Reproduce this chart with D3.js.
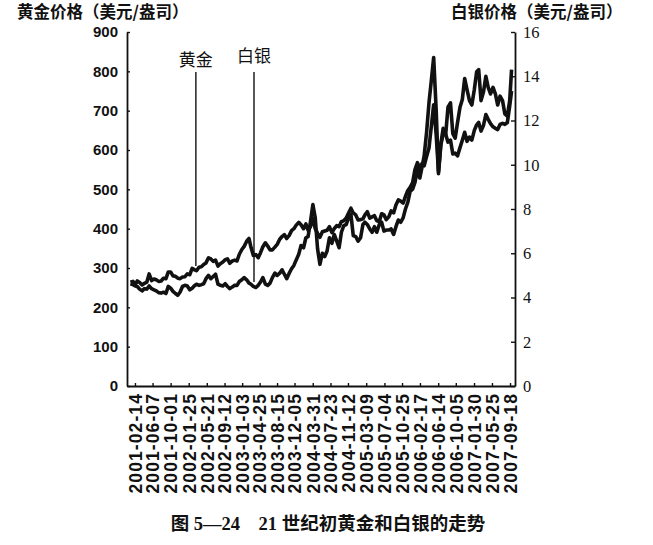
<!DOCTYPE html>
<html><head><meta charset="utf-8">
<script src="https://cdn.jsdelivr.net/npm/d3@7"></script>
<style>
html,body{margin:0;padding:0;background:#fff;}
svg{display:block;}
</style></head>
<body>
<svg id="chart" width="653" height="545"></svg>
<script>
// ---- data (semi-monthly readings: 1st & 16th of each month) ----
const startDate = "2001-01-16";
const endDate = "2007-09-28";
const goldValues = [
  264, 266,258, 267,263, 257,261, 264,285, 268,272, 270,266, 267,274, 273,290, 290,280, 279,274, 273,277, // 2001
  278,285, 283,299, 296,293, 302,303, 309,313, 326,323, 317,320, 305,311, 315,321, 323,312, 318,320, 318,335, // 2002
  347,355, 368,375, 352,332, 334,326, 339,354, 364,356, 346,346, 353,360, 373,380, 385,375, 383,395, 400,409, // 2003
  416,410, 400,412, 396,405, 425,400, 388,378, 392,394, 396,405, 390,400, 408,405, 418,420, 427,440, 452,440, // 2004
  435,422, 423,425, 435,443, 427,430, 433,420, 418,438, 435,423, 430,445, 440,460, 473,470, 465,482, 497,505, // 2005
  517,550, 568,550, 565,560, 584,605, 660,715, 640,545, 615,655, 640,620, 625,590, 592,585, 606,625, 645,622, // 2006
  633,625, 650,664, 670,648, 663,690, 678,667, 659,655, 652,665, 668,665, 670,712, 750 // 2007
];
const silverValues = [
  4.62, 4.58,4.52, 4.50,4.38, 4.30,4.40, 4.38,4.52, 4.40,4.35, 4.30,4.22, 4.20,4.24, 4.18,4.50, 4.42,4.28, 4.18,4.10, 4.25,4.50, // 2001
  4.55,4.52, 4.35,4.42, 4.52,4.60, 4.55,4.58, 4.62,4.85, 5.00,4.85, 4.95,5.05, 4.60,4.55, 4.52,4.62, 4.50,4.40, 4.48,4.55, 4.55,4.72, // 2002
  4.80,4.90, 4.80,4.65, 4.60,4.50, 4.45,4.55, 4.70,4.90, 4.60,4.55, 4.65,4.90, 5.10,5.00, 5.10,5.25, 5.05,4.85, 5.10,5.30, 5.45,5.70, // 2003
  5.95,6.35, 6.25,6.70, 6.75,7.40, 8.20,7.60, 6.20,5.50, 6.00,5.85, 6.10,6.70, 6.45,6.85, 6.55,6.25, 6.95,7.25, 7.30,7.60, 7.75,6.80, // 2004
  6.75,6.55, 6.70,7.30, 7.40,7.30, 7.10,6.95, 7.20,6.95, 7.30,7.40, 7.00,7.05, 7.05,7.10, 6.85,7.20, 7.50,7.40, 7.60,8.00, 8.30,8.80, // 2005
  8.90,9.20, 9.80,9.40, 9.85,10.40, 11.50,12.80, 13.80,14.85, 12.50,9.60, 10.90,11.40, 11.35,12.60, 12.80,11.40, 11.20,11.90, 12.60,12.95, 13.90,13.40, // 2006
  12.90,12.70, 13.40,14.20, 14.30,12.90, 13.30,14.00, 13.50,13.20, 13.50,13.20, 12.70,13.10, 12.90,12.30, 12.20,12.90, 14.30 // 2007
];
const xTickLabels = ["2001-02-14","2001-06-07","2001-10-01","2002-01-25","2002-05-21","2002-09-12",
  "2003-01-03","2003-04-25","2003-08-15","2003-12-05","2004-03-31","2004-07-23","2004-11-12",
  "2005-03-09","2005-07-04","2005-10-25","2006-02-17","2006-06-14","2006-10-05","2007-01-30",
  "2007-05-25","2007-09-18"];
const goldTicks = [0,100,200,300,400,500,600,700,800,900];
const silverTicks = [0,2,4,6,8,10,12,14,16];
const leftTitle = "黄金价格（美元/盎司）";
const rightTitle = "白银价格（美元/盎司）";
const caption = "图 5—24　21 世纪初黄金和白银的走势";
const annLabels = ["黄金","白银"];
const annDates = ["2002-03-12","2003-03-20"];
const annSeries = ["gold","silver"];
const annValues = [305, 4.7];
const annTopGold = 798;   // top of pointer lines in gold-axis units

// ---- build dates ----
const parse = d3.timeParse("%Y-%m-%d");
const dates = [parse(startDate)];
d3.timeMonth.range(new Date(2001,1,1), new Date(2007,9,1)).forEach(m => {
  dates.push(m);
  dates.push(d3.timeDay.offset(m, 15));
});
dates.push(parse(endDate));
const gold = dates.map((d,i)=>({date:d, v:goldValues[i]}));
const silver = dates.map((d,i)=>({date:d, v:silverValues[i]}));

// ---- scales ----
const L=127, R=515, T=32, B=386;
const x = d3.scaleTime().domain([new Date(2000,11,25), new Date(2007,9,20)]).range([L,R]);
const yG = d3.scaleLinear().domain([0,900]).range([B,T]);
const yS = d3.scaleLinear().domain([0,16]).range([B,T]);

const svg = d3.select("#chart");
svg.append("rect").attr("width",653).attr("height",545).attr("fill","#fff");

const ink = "#111";

// lines
const lineG = d3.line().x(d=>x(d.date)).y(d=>yG(d.v));
const lineS = d3.line().x(d=>x(d.date)).y(d=>yS(d.v));
svg.append("path").datum(gold).attr("d",lineG).attr("fill","none")
  .attr("stroke",ink).attr("stroke-width",3.6).attr("stroke-linejoin","round");
svg.append("path").datum(silver).attr("d",lineS).attr("fill","none")
  .attr("stroke",ink).attr("stroke-width",3.6).attr("stroke-linejoin","round");

// axes
const gL = svg.append("g").attr("transform",`translate(${L},0)`)
  .call(d3.axisLeft(yG).tickValues(goldTicks).tickSizeInner(-3).tickSizeOuter(0).tickPadding(9));
gL.selectAll("text").attr("font-family","'Liberation Sans', Arial, sans-serif")
  .attr("font-size",15).attr("font-weight","bold").attr("fill",ink);

const gR = svg.append("g").attr("transform",`translate(${R},0)`)
  .call(d3.axisRight(yS).tickValues(silverTicks).tickSizeInner(-4).tickSizeOuter(0).tickPadding(8));
gR.selectAll("text").attr("font-family","'Liberation Serif', 'Times New Roman', serif")
  .attr("font-size",16.5).attr("fill",ink);

const gB = svg.append("g").attr("transform",`translate(0,${B})`)
  .call(d3.axisBottom(x).tickValues(xTickLabels.map(parse)).tickSizeInner(-3).tickSizeOuter(0)
    .tickFormat(d3.timeFormat("%Y-%m-%d")));
gB.selectAll("text").attr("font-family","'Liberation Sans', Arial, sans-serif")
  .attr("font-size",17.5).attr("font-weight","bold").attr("fill",ink)
  .attr("letter-spacing","1.1px")
  .attr("transform","rotate(-90)").attr("text-anchor","end")
  .attr("x",-7).attr("y",0).attr("dy","0.36em");

[gL,gR,gB].forEach(g=>{
  g.select(".domain").attr("stroke",ink).attr("stroke-width",1.8);
  g.selectAll(".tick line").attr("stroke",ink).attr("stroke-width",1.4);
});

// axis titles
svg.append("text").attr("x",17).attr("y",18).text(leftTitle)
  .attr("font-family","'Noto Sans CJK SC', sans-serif").attr("font-size",16.5).attr("font-weight","bold").attr("fill",ink);
svg.append("text").attr("x",451).attr("y",18).text(rightTitle)
  .attr("font-family","'Noto Sans CJK SC', sans-serif").attr("font-size",16.5).attr("font-weight","bold").attr("fill",ink);

// annotations
annLabels.forEach((lab,i)=>{
  const xx = x(parse(annDates[i]));
  const yBottom = annSeries[i]==="gold" ? yG(annValues[i]) : yS(annValues[i]);
  svg.append("line").attr("x1",xx).attr("x2",xx).attr("y1",yG(annTopGold)).attr("y2",yBottom)
    .attr("stroke",ink).attr("stroke-width",1.4);
  svg.append("text").attr("x",xx).attr("y",yG(annTopGold) - (i===0?6:10)).text(lab)
    .attr("text-anchor","middle").attr("font-family","'Noto Sans CJK SC', sans-serif")
    .attr("font-size",17).attr("fill",ink);
});

// caption
svg.append("text").attr("x",328).attr("y",530).text(caption).attr("text-anchor","middle")
  .attr("font-family","'Liberation Serif', 'Noto Sans CJK SC', serif").attr("font-size",18.5)
  .attr("font-weight","bold").attr("fill",ink);
</script>
</body></html>
